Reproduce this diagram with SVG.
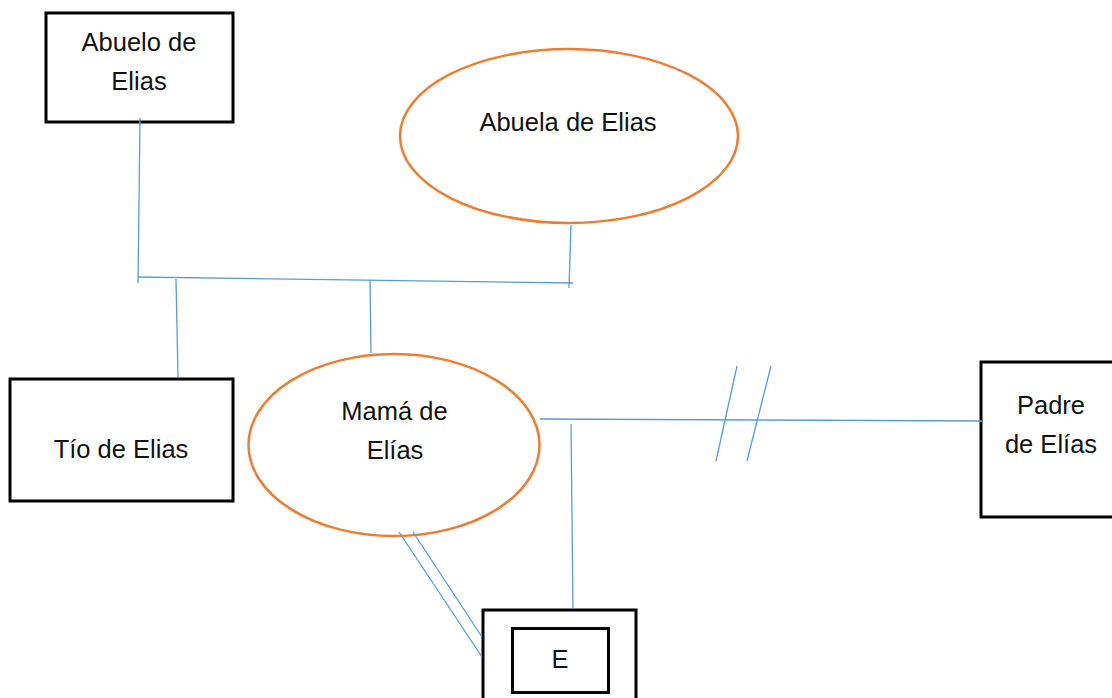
<svg xmlns="http://www.w3.org/2000/svg" width="1112" height="698" viewBox="0 0 1112 698">
<style>
.box{fill:#fff;stroke:#000;stroke-width:3}
.ell{fill:#fff;stroke:#ED7D31;stroke-width:2.5}
.ln{stroke:#5B9BD5;stroke-width:1.3;fill:none}
text{font-family:"Liberation Sans",Arial,sans-serif;font-size:25.5px;fill:#111;text-anchor:middle}
</style>
<rect width="1112" height="698" fill="#fff"/>
<g id="abuelo"><rect class="box" x="46" y="13" width="187" height="109"/><text x="139" y="51">Abuelo de</text><text x="139" y="90">Elias</text></g>
<g id="abuela"><ellipse class="ell" cx="569" cy="136" rx="169" ry="87"/><text x="568" y="131">Abuela de Elias</text></g>
<g id="tio"><rect class="box" x="10" y="379" width="223" height="122"/><text x="121" y="458">Tío de Elias</text></g>
<g id="mama"><ellipse class="ell" cx="394" cy="445" rx="145.5" ry="91"/><text x="394.5" y="420">Mamá de</text><text x="395" y="459">Elías</text></g>
<g id="padre"><rect class="box" x="981" y="362" width="140" height="155"/><text x="1051" y="414">Padre</text><text x="1051" y="453">de Elías</text></g>
<g id="e"><rect class="box" x="483" y="610" width="153" height="100"/><rect class="box" x="512.5" y="628.5" width="96" height="64"/><text x="560" y="668">E</text></g>
<g id="connectors">
<line class="ln" x1="140" y1="118" x2="138" y2="283"/>
<line class="ln" x1="138" y1="277" x2="573" y2="283"/>
<line class="ln" x1="571" y1="225" x2="569" y2="288"/>
<line class="ln" x1="176" y1="279" x2="178" y2="378"/>
<line class="ln" x1="370" y1="280" x2="371" y2="353"/>
<line class="ln" x1="540" y1="419" x2="982" y2="421"/>
<line class="ln" x1="737" y1="366" x2="716" y2="461"/>
<line class="ln" x1="771" y1="366" x2="747" y2="461"/>
<line class="ln" x1="571" y1="424" x2="573" y2="609"/>
<line class="ln" x1="399" y1="532" x2="482" y2="657"/>
<line class="ln" x1="413" y1="532" x2="482" y2="637"/>
</g>
</svg>
